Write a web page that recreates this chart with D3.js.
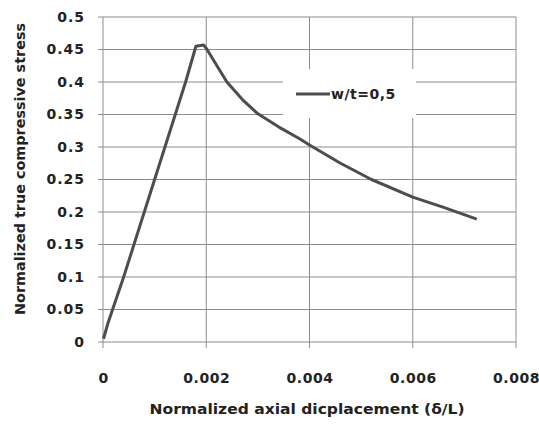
<!DOCTYPE html>
<html lang="en">
<head>
  <meta charset="UTF-8">
  <title>Normalized stress vs displacement</title>
  <script src="https://d3js.org/d3.v7.min.js"></script>
  <style>
    body { margin: 0; background: #fff; }
    .tick text, .lbl { font-family: "DejaVu Sans", sans-serif; font-weight: bold; fill: #222; }
    .grid line { stroke: #8a8d94; stroke-width: 1; }
  </style>
</head>
<body>
  <svg id="chart"></svg>
  <script>
    const width = 539, height = 424;
    const margin = { top: 17, right: 23, bottom: 82, left: 103 };

    // displacement (δ/L) and stress values
    const disp   = [0.00001, 0.0001, 0.0004, 0.0008, 0.0012, 0.0016, 0.0018, 0.00195, 0.002, 0.0024, 0.0027, 0.003, 0.0034, 0.0038, 0.004, 0.0046, 0.0052, 0.006, 0.0066, 0.00724];
    const stress = [0.005, 0.03, 0.1, 0.2, 0.3, 0.4, 0.455, 0.457, 0.452, 0.4, 0.373, 0.351, 0.331, 0.313, 0.303, 0.275, 0.25, 0.223, 0.207, 0.189];
    const xTicks = [0, 0.002, 0.004, 0.006, 0.008];
    const yTicks = [0, 0.05, 0.1, 0.15, 0.2, 0.25, 0.3, 0.35, 0.4, 0.45, 0.5];
    const seriesName = "w/t=0,5";

    const svg = d3.select("#chart").attr("width", width).attr("height", height);
    const iw = width - margin.left - margin.right;
    const ih = height - margin.top - margin.bottom;
    const g = svg.append("g").attr("transform", `translate(${margin.left},${margin.top})`);

    const x = d3.scaleLinear().domain([0, 0.008]).range([0, iw]);
    const y = d3.scaleLinear().domain([0, 0.5]).range([ih, 0]);

    // grid
    g.append("g").attr("class", "grid")
      .selectAll("line.h").data(yTicks).enter().append("line")
      .attr("x1", -5).attr("x2", iw)
      .attr("y1", d => y(d)).attr("y2", d => y(d));
    g.append("g").attr("class", "grid")
      .selectAll("line.v").data(xTicks).enter().append("line")
      .attr("x1", d => x(d)).attr("x2", d => x(d))
      .attr("y1", 0).attr("y2", ih + 6);

    // axes (labels only, lines come from grid)
    const xAxis = g.append("g").attr("transform", `translate(0,${ih})`)
      .call(d3.axisBottom(x).tickValues(xTicks).tickFormat(d => d === 0 ? "0" : d3.format(".3f")(d)).tickSize(0).tickPadding(31));
    const yAxis = g.append("g")
      .call(d3.axisLeft(y).tickValues(yTicks).tickFormat(d => d === 0 ? "0" : String(+d.toFixed(2))).tickSize(0).tickPadding(18));
    xAxis.select(".domain").remove();
    yAxis.select(".domain").remove();
    xAxis.selectAll("text").style("font-size", "14px").style("letter-spacing", "0.5px");
    yAxis.selectAll("text").style("font-size", "14px").style("letter-spacing", "1px");

    // curve
    const pts = disp.map((d, i) => [d, stress[i]]);
    g.append("path").datum(pts)
      .attr("fill", "none").attr("stroke", "#4d4d4f").attr("stroke-width", 3)
      .attr("stroke-linejoin", "round")
      .attr("d", d3.line().x(d => x(d[0])).y(d => y(d[1])));

    // legend
    const lg = svg.append("g").attr("transform", "translate(283,69)");
    lg.append("rect").attr("width", 133).attr("height", 49).attr("fill", "#fff");
    lg.append("line").attr("x1", 13).attr("x2", 47).attr("y1", 25).attr("y2", 25)
      .attr("stroke", "#4d4d4f").attr("stroke-width", 3);
    lg.append("text").attr("class", "lbl").attr("x", 48).attr("y", 30)
      .style("font-size", "14px").style("letter-spacing", "0.5px").text(seriesName);

    // axis titles
    svg.append("text").attr("class", "lbl")
      .attr("x", 307).attr("y", 414).attr("text-anchor", "middle")
      .attr("textLength", 315).attr("lengthAdjust", "spacingAndGlyphs")
      .style("font-size", "13.5px").text("Normalized axial dicplacement (δ/L)");
    svg.append("text").attr("class", "lbl")
      .attr("transform", "translate(25,169) rotate(-90)").attr("text-anchor", "middle")
      .attr("textLength", 292).attr("lengthAdjust", "spacingAndGlyphs")
      .style("font-size", "13.5px").text("Normalized true compressive stress");
  </script>
</body>
</html>
